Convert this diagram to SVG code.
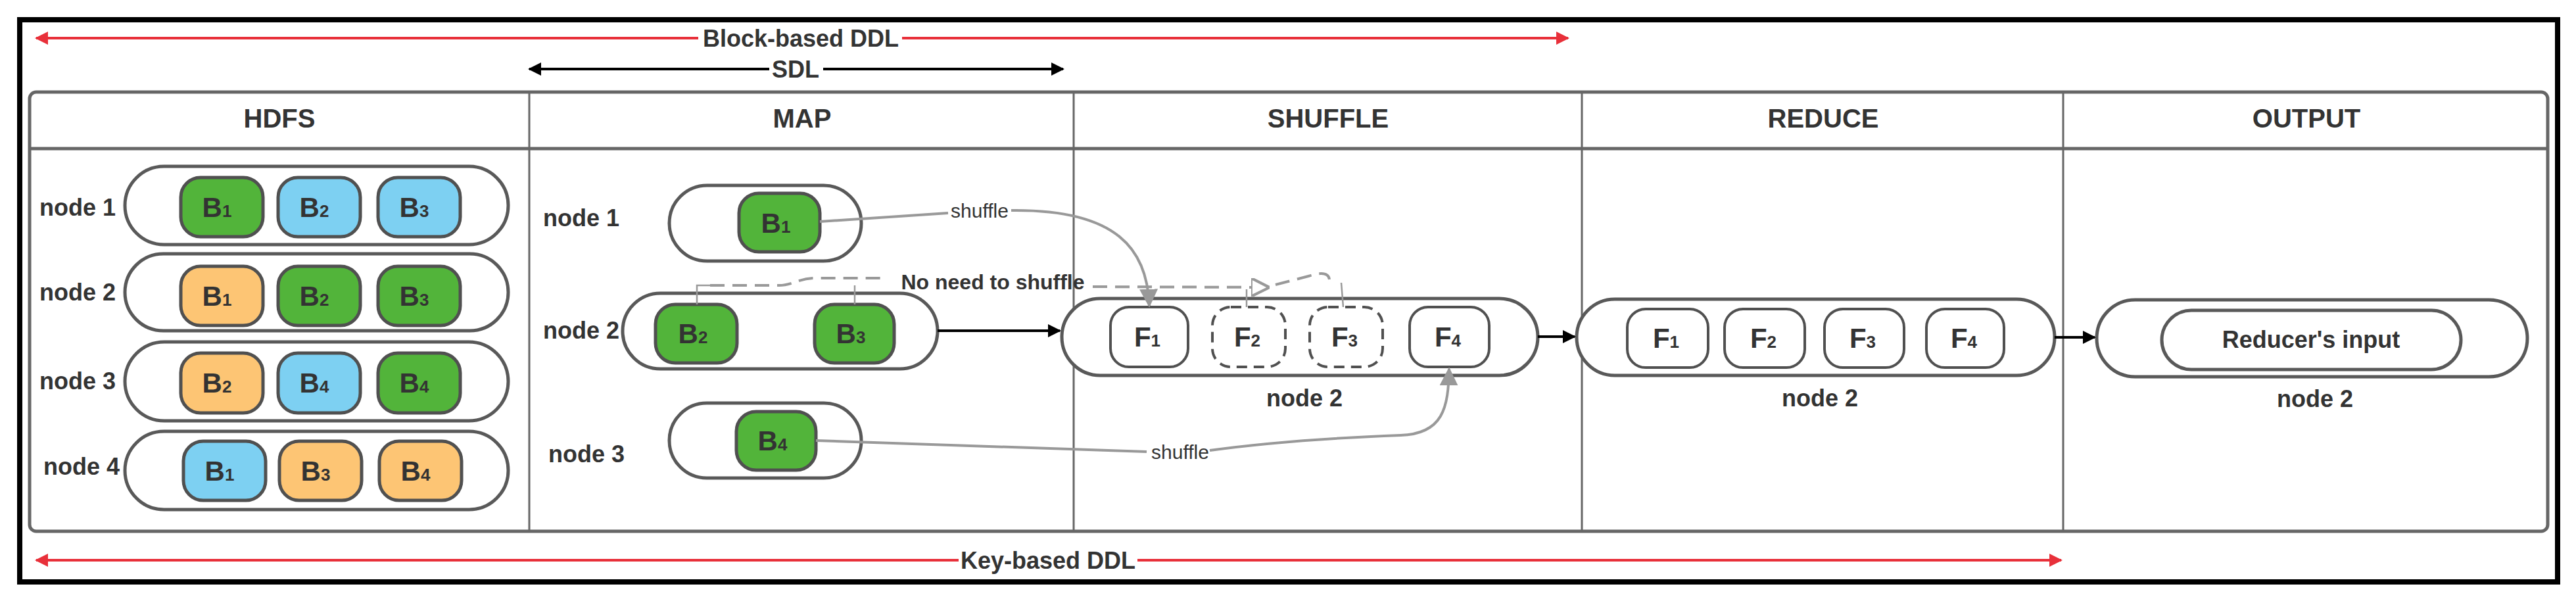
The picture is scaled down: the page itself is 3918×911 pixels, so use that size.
<svg xmlns="http://www.w3.org/2000/svg" width="3918" height="911" viewBox="0 0 3918 911">
<defs>
<style>
text{font-family:"Liberation Sans",Arial,sans-serif;font-weight:bold;fill:#333;text-anchor:middle}
.h{font-size:40px}.n{font-size:36px}.b{font-size:42px}.s{font-size:26px}
.sh{font-size:30px;font-weight:normal;fill:#333}
.pill{fill:#fff;stroke:#595959;stroke-width:5}
.g{fill:#52b43a;stroke:#505050;stroke-width:5}
.bl{fill:#7dd0f2;stroke:#505050;stroke-width:5}
.o{fill:#fdc574;stroke:#505050;stroke-width:5}
.f{fill:#fff;stroke:#505050;stroke-width:4}
.fd{fill:#fff;stroke:#505050;stroke-width:4;stroke-dasharray:16 10}
</style>
<marker id="ar" viewBox="0 0 10 10" refX="9" refY="5" markerWidth="5" markerHeight="5" orient="auto-start-reverse"><path d="M0,0L10,5L0,10z" fill="#e8303a"/></marker>
<marker id="ak" viewBox="0 0 10 10" refX="9" refY="5" markerWidth="5" markerHeight="5" orient="auto-start-reverse"><path d="M0,0L10,5L0,10z" fill="#000"/></marker>
<marker id="ag" viewBox="0 0 10 10" refX="9" refY="5" markerWidth="7" markerHeight="7" orient="auto"><path d="M0,0L10,5L0,10z" fill="#999"/></marker>
<marker id="ao" viewBox="0 0 10 10" refX="9" refY="5" markerWidth="7" markerHeight="7" orient="auto"><path d="M0,0L10,5L0,10z" fill="#fff" stroke="#999" stroke-width="1.5"/></marker>
</defs>
<rect x="30" y="30" width="3860" height="855" fill="#fff" stroke="#000" stroke-width="8"/>
<g id="table">
<rect x="45" y="140" width="3830" height="668" rx="10" fill="none" stroke="#666" stroke-width="5"/>
<line x1="45" y1="226" x2="3875" y2="226" stroke="#666" stroke-width="5"/>
<g stroke="#666" stroke-width="3"><line x1="805" y1="140" x2="805" y2="808"/><line x1="1633" y1="140" x2="1633" y2="808"/><line x1="2406" y1="140" x2="2406" y2="808"/><line x1="3138" y1="140" x2="3138" y2="808"/></g>
<text class="h" x="425" y="194">HDFS</text><text class="h" x="1220" y="194">MAP</text><text class="h" x="2020" y="194">SHUFFLE</text><text class="h" x="2773" y="194">REDUCE</text><text class="h" x="3508" y="194">OUTPUT</text>
</g>
<g id="hdfs-node1"><text class="n" x="118" y="328">node 1</text><rect class="pill" x="190" y="253" width="583" height="119" rx="59.5"/>
<rect class="g" x="275" y="270" width="125" height="90" rx="30"/><rect class="bl" x="423" y="270" width="125" height="90" rx="30"/><rect class="bl" x="575" y="270" width="125" height="90" rx="30"/>
<text class="b" x="330" y="330">B<tspan class="s">1</tspan></text><text class="b" x="478" y="330">B<tspan class="s">2</tspan></text><text class="b" x="630" y="330">B<tspan class="s">3</tspan></text></g>
<g id="hdfs-node2"><text class="n" x="118" y="457">node 2</text><rect class="pill" x="190" y="386" width="583" height="117" rx="58.5"/>
<rect class="o" x="275" y="405" width="125" height="90" rx="30"/><rect class="g" x="423" y="405" width="125" height="90" rx="30"/><rect class="g" x="575" y="405" width="125" height="90" rx="30"/>
<text class="b" x="330" y="465">B<tspan class="s">1</tspan></text><text class="b" x="478" y="465">B<tspan class="s">2</tspan></text><text class="b" x="630" y="465">B<tspan class="s">3</tspan></text></g>
<g id="hdfs-node3"><text class="n" x="118" y="592">node 3</text><rect class="pill" x="190" y="520" width="583" height="120" rx="60"/>
<rect class="o" x="275" y="537" width="125" height="91" rx="30"/><rect class="bl" x="423" y="537" width="125" height="91" rx="30"/><rect class="g" x="575" y="537" width="125" height="91" rx="30"/>
<text class="b" x="330" y="597">B<tspan class="s">2</tspan></text><text class="b" x="478" y="597">B<tspan class="s">4</tspan></text><text class="b" x="630" y="597">B<tspan class="s">4</tspan></text></g>
<g id="hdfs-node4"><text class="n" x="124" y="722">node 4</text><rect class="pill" x="190" y="656" width="583" height="119" rx="59.5"/>
<rect class="bl" x="279" y="671" width="125" height="90" rx="30"/><rect class="o" x="425" y="671" width="125" height="90" rx="30"/><rect class="o" x="577" y="671" width="125" height="90" rx="30"/>
<text class="b" x="334" y="731">B<tspan class="s">1</tspan></text><text class="b" x="480" y="731">B<tspan class="s">3</tspan></text><text class="b" x="632" y="731">B<tspan class="s">4</tspan></text></g>
<g id="map-node1"><text class="n" x="884" y="344">node 1</text><rect class="pill" x="1018" y="282" width="292" height="115" rx="57.5"/>
<rect class="g" x="1124" y="294" width="123" height="89" rx="30"/><text class="b" x="1180" y="354">B<tspan class="s">1</tspan></text></g>
<g id="map-node2"><text class="n" x="884" y="515">node 2</text><rect class="pill" x="947" y="446" width="479" height="115" rx="57.5"/>
<rect class="g" x="997" y="463" width="124" height="89" rx="30"/><rect class="g" x="1239" y="463" width="121" height="89" rx="30"/>
<text class="b" x="1054" y="522">B<tspan class="s">2</tspan></text><text class="b" x="1294" y="522">B<tspan class="s">3</tspan></text></g>
<g id="map-node3"><text class="n" x="892" y="703">node 3</text><rect class="pill" x="1018" y="613" width="292" height="114" rx="57"/>
<rect class="g" x="1120" y="626" width="121" height="89" rx="30"/><text class="b" x="1175" y="685">B<tspan class="s">4</tspan></text></g>
<g id="shuffle-node2"><rect class="pill" x="1615" y="454" width="724" height="117" rx="58.5"/>
<rect class="f" x="1689" y="467" width="118" height="91" rx="28"/><rect class="fd" x="1844" y="467" width="111" height="91" rx="28"/><rect class="fd" x="1992" y="467" width="111" height="91" rx="28"/><rect class="f" x="2144" y="467" width="121" height="91" rx="28"/>
<text class="b" x="1745" y="527">F<tspan class="s">1</tspan></text><text class="b" x="1897" y="527">F<tspan class="s">2</tspan></text><text class="b" x="2045" y="527">F<tspan class="s">3</tspan></text><text class="b" x="2202" y="527">F<tspan class="s">4</tspan></text>
<text class="n" x="1984" y="618">node 2</text></g>
<g id="reduce-node2"><rect class="pill" x="2398" y="455" width="727" height="116" rx="58"/>
<rect class="f" x="2475" y="470" width="123" height="89" rx="28"/><rect class="f" x="2623" y="470" width="122" height="89" rx="28"/><rect class="f" x="2775" y="470" width="121" height="89" rx="28"/><rect class="f" x="2930" y="470" width="118" height="89" rx="28"/>
<text class="b" x="2534" y="529">F<tspan class="s">1</tspan></text><text class="b" x="2682" y="529">F<tspan class="s">2</tspan></text><text class="b" x="2833" y="529">F<tspan class="s">3</tspan></text><text class="b" x="2987" y="529">F<tspan class="s">4</tspan></text>
<text class="n" x="2768" y="618">node 2</text></g>
<g id="output-node2"><rect class="pill" x="3189" y="456" width="655" height="117" rx="58.5"/>
<rect class="pill" x="3288" y="472" width="455" height="90" rx="45"/>
<text class="n" x="3515" y="529">Reducer's input</text><text class="n" x="3521" y="619">node 2</text></g>
<g id="connectors">
<line x1="55" y1="58" x2="2385" y2="58" stroke="#e8303a" stroke-width="4" marker-start="url(#ar)" marker-end="url(#ar)"/>
<line x1="805" y1="105" x2="1617" y2="105" stroke="#000" stroke-width="4" marker-start="url(#ak)" marker-end="url(#ak)"/>
<line x1="55" y1="852" x2="3135" y2="852" stroke="#e8303a" stroke-width="4" marker-start="url(#ar)" marker-end="url(#ar)"/>
<line x1="1426" y1="503" x2="1612" y2="503" stroke="#000" stroke-width="4" marker-end="url(#ak)"/>
<line x1="2339" y1="512" x2="2395" y2="512" stroke="#000" stroke-width="4" marker-end="url(#ak)"/>
<line x1="3125" y1="513" x2="3186" y2="513" stroke="#000" stroke-width="4" marker-end="url(#ak)"/>
<g fill="none" stroke="#999" stroke-width="4">
<path d="M1247,337 L1442,324"/>
<path d="M1538,320 C1700,318 1745,380 1748,465" marker-end="url(#ag)"/>
<path d="M1241,670 L1744,687"/>
<path d="M1840,685 C1950,670 2050,665 2130,662 C2195,660 2203,620 2204,561" marker-end="url(#ag)"/>
</g>
<g fill="none" stroke="#999" stroke-width="4" stroke-dasharray="22 12">
<path d="M1080,434 L1185,434 C1205,434 1215,423 1240,423 L1350,423"/>
<path d="M1662,436 L1928,437" marker-end="url(#ao)"/>
<path d="M1940,433 L1990,420 Q2020,410 2022,425"/>
</g>
<g fill="none" stroke="#999" stroke-width="2.5">
<path d="M1060,463 L1060,434 L1080,434"/><path d="M1300,463 L1300,434"/>
<path d="M1896,467 L1896,440"/><path d="M2043,467 L2040,430"/>
</g>
</g>
<g id="labels">
<rect x="1062" y="40" width="310" height="36" fill="#fff"/><text class="n" x="1218" y="71">Block-based DDL</text>
<rect x="1170" y="88" width="82" height="36" fill="#fff"/><text class="n" x="1210" y="118">SDL</text>
<rect x="1458" y="835" width="272" height="36" fill="#fff"/><text class="n" x="1594" y="865">Key-based DDL</text>
<text class="sh" x="1490" y="331">shuffle</text>
<text class="sh" x="1795" y="698">shuffle</text>
<text class="n" style="font-size:32px" x="1510" y="440">No need to shuffle</text>
</g>
</svg>
